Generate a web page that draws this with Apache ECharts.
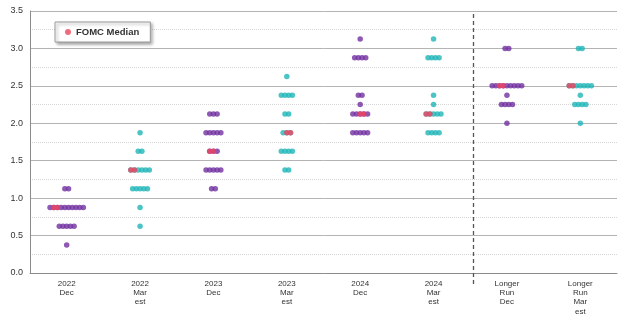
<!DOCTYPE html>
<html>
<head>
<meta charset="utf-8">
<script src="https://cdn.jsdelivr.net/npm/echarts@6/dist/echarts.min.js"></script>
<style>
html,body{margin:0;padding:0;background:#fff;}
#chart{width:627px;height:322px;}
</style>
</head>
<body>
<div id="chart"></div>
<script>
// Categories (x-axis labels)
const categories = ['2022\nDec','2022\nMar\nest','2023\nDec','2023\nMar\nest','2024\nDec','2024\nMar\nest','Longer\nRun\nDec','Longer\nRun\nMar\nest'];

// Dots per category: [rate, number of participants]
const dots2022Dec = [[1.125,2],[0.875,10],[0.625,5],[0.375,1]];
const dots2022Mar = [[1.875,1],[1.625,2],[1.375,6],[1.125,5],[0.875,1],[0.625,1]];
const dots2023Dec = [[2.125,3],[1.875,5],[1.625,3],[1.375,5],[1.125,2]];
const dots2023Mar = [[2.625,1],[2.375,4],[2.125,2],[1.875,3],[1.625,4],[1.375,2]];
const dots2024Dec = [[3.125,1],[2.875,4],[2.375,2],[2.25,1],[2.125,5],[1.875,5]];
const dots2024Mar = [[3.125,1],[2.875,4],[2.375,1],[2.25,1],[2.125,5],[1.875,4]];
const dotsLRDec   = [[3.0,2],[2.5,9],[2.375,1],[2.25,4],[2.0,1]];
const dotsLRMar   = [[3.0,2],[2.5,7],[2.375,1],[2.25,4],[2.0,1]];

// FOMC median per category and its slot within the row
const medians    = [0.875,1.375,1.625,1.875,2.125,2.125,2.5,2.5];
const medianSlot = [1,0,0,1,2,0,2,0];

// Y-axis ticks
const yMin = 0, yMax = 3.5, yStep = 0.5;

const allDots = [dots2022Dec,dots2022Mar,dots2023Dec,dots2023Mar,dots2024Dec,dots2024Mar,dotsLRDec,dotsLRMar];

const PURPLE = '#7030a0', TEAL = '#1fb5b8', RED = '#ec4560';
const SPACING = 3.7, DOT = 5.5;

const decData = [], marData = [], medData = [];
allDots.forEach((rows, ci) => {
  rows.forEach(([v, n]) => {
    for (let j = 0; j < n; j++) {
      const item = { value: [ci, v], symbolOffset: [(j - (n - 1) / 2) * SPACING, 0] };
      (ci % 2 === 0 ? decData : marData).push(item);
    }
    if (v === medians[ci]) {
      for (let k = 0; k < 2; k++) {
        const j = medianSlot[ci] + k;
        medData.push({ value: [ci, v], symbolOffset: [(j - (n - 1) / 2) * SPACING, 0] });
      }
    }
  });
});

const chart = echarts.init(document.getElementById('chart'), null, { renderer: 'canvas' });
const FONT = 'Liberation Sans, Arial, sans-serif';

chart.setOption({
  animation: false,
  backgroundColor: '#fff',
  grid: { left: 30, right: 10, top: 11, bottom: 49 },
  legend: {
    data: [{ name: 'FOMC Median', icon: 'circle' }],
    left: 55, top: 22,
    itemWidth: 6, itemHeight: 6, itemGap: 5,
    padding: [5, 11, 5, 10],
    backgroundColor: '#fff',
    borderColor: '#9a9a9a', borderWidth: 1,
    shadowColor: 'rgba(0,0,0,0.35)', shadowBlur: 3, shadowOffsetX: 2, shadowOffsetY: 2,
    textStyle: { fontFamily: FONT, fontSize: 9.5, fontWeight: 'bold', color: '#333' }
  },
  xAxis: {
    type: 'category',
    data: categories,
    boundaryGap: true,
    axisTick: { show: false },
    axisLine: { lineStyle: { color: '#8c8c8c', width: 1 } },
    axisLabel: { interval: 0, fontFamily: FONT, fontSize: 8, lineHeight: 9.3, color: '#333', margin: 6 },
    splitLine: { show: false }
  },
  yAxis: {
    type: 'value',
    min: yMin, max: yMax, interval: yStep,
    axisLine: { show: true, lineStyle: { color: '#8c8c8c', width: 1 } },
    axisTick: { show: false },
    axisLabel: { fontFamily: FONT, fontSize: 9, color: '#333', margin: 7, formatter: v => v.toFixed(1) },
    splitLine: { show: true, lineStyle: { color: '#b4b4b4', width: 1 } },
    minorTick: { show: false, splitNumber: 2 },
    minorSplitLine: { show: true, lineStyle: { color: '#d6d6d6', width: 1, type: 'dotted' } }
  },
  series: [
    { name: 'Dec', type: 'scatter', symbol: 'circle', symbolSize: DOT, itemStyle: { color: PURPLE }, data: decData, z: 3 },
    { name: 'Mar est', type: 'scatter', symbol: 'circle', symbolSize: DOT, itemStyle: { color: TEAL }, data: marData, z: 3 },
    { name: 'FOMC Median', type: 'scatter', symbol: 'circle', symbolSize: DOT, itemStyle: { color: RED }, data: medData, z: 4 }
  ]
});

// dashed separator between projections and longer run
const x5 = chart.convertToPixel({ xAxisIndex: 0 }, 5);
const x6 = chart.convertToPixel({ xAxisIndex: 0 }, 6);
const xs = Math.round((x5 + x6) / 2) + 3.5;
const yTop = chart.convertToPixel({ yAxisIndex: 0 }, yMax);
const yBot = chart.convertToPixel({ yAxisIndex: 0 }, yMin);
chart.setOption({
  graphic: [{
    type: 'line', z: 10,
    shape: { x1: xs, y1: yTop + 3, x2: xs, y2: yBot + 12 },
    style: { stroke: '#555', lineWidth: 1.3, lineDash: [4, 3] }
  }]
});
</script>
</body>
</html>
